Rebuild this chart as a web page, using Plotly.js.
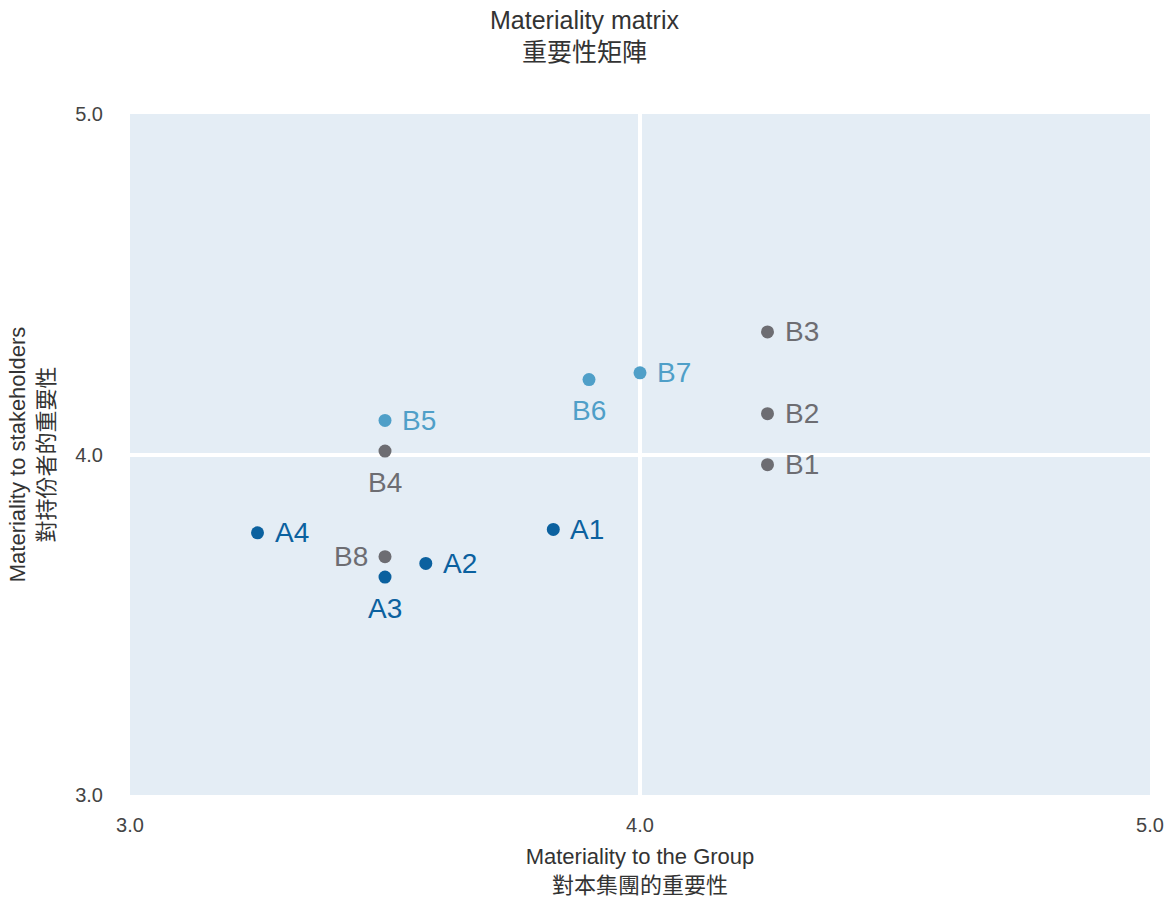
<!DOCTYPE html>
<html>
<head>
<meta charset="utf-8">
<script src="https://cdn.plot.ly/plotly-3.0.1.min.js"></script>
<style>html,body{margin:0;padding:0;background:#fff;}#chart{width:1169px;height:898px;}</style>
</head>
<body>
<div id="chart"></div>
<script>
// Group A (dark blue)
const aLabels = ["A1", "A2", "A3", "A4"];
const aGroup = [3.83, 3.58, 3.50, 3.25];
const aStake = [3.78, 3.68, 3.64, 3.77];
const aPos = ["right", "right", "bottom", "right"];

// Group B light blue
const bLightLabels = ["B5", "B6", "B7"];
const bLightGroup = [3.50, 3.90, 4.00];
const bLightStake = [4.10, 4.22, 4.24];
const bLightPos = ["right", "bottom", "right"];

// Group B grey
const bGreyLabels = ["B1", "B2", "B3", "B4", "B8"];
const bGreyGroup = [4.25, 4.25, 4.25, 3.50, 3.50];
const bGreyStake = [3.97, 4.12, 4.36, 4.01, 3.70];
const bGreyPos = ["right", "right", "right", "bottom", "left"];

const tickVals = [3, 4, 5];
const tickText = ["3.0", "4.0", "5.0"];

const FONT = "Liberation Sans, Arial, Noto Sans CJK TC, sans-serif";

const COLORS = {a: "#0b619f", light: "#4f9fc8", grey: "#6d6d72"};

function mk(x, y, labels, color) {
  return {
    type: "scatter", mode: "markers",
    x: x, y: y, text: labels,
    marker: {size: 13, color: color},
    hoverinfo: "text", cliponaxis: false, showlegend: false
  };
}

function labelAnns(x, y, labels, pos, color) {
  return labels.map((l, i) => {
    const a = {
      x: x[i], y: y[i], xref: "x", yref: "y", text: l, showarrow: false,
      font: {family: FONT, size: 28, color: color},
      xanchor: "center", yanchor: "middle"
    };
    if (pos[i] === "right") { a.xanchor = "left"; a.xshift = 15; }
    else if (pos[i] === "left") { a.xanchor = "right"; a.xshift = -15; }
    else if (pos[i] === "bottom") { a.yshift = -31; }
    return a;
  });
}

const traces = [
  mk(bGreyGroup, bGreyStake, bGreyLabels, COLORS.grey),
  mk(bLightGroup, bLightStake, bLightLabels, COLORS.light),
  mk(aGroup, aStake, aLabels, COLORS.a)
];

const annotations = []
  .concat(labelAnns(bGreyGroup, bGreyStake, bGreyLabels, bGreyPos, COLORS.grey))
  .concat(labelAnns(bLightGroup, bLightStake, bLightLabels, bLightPos, COLORS.light))
  .concat(labelAnns(aGroup, aStake, aLabels, aPos, COLORS.a));

const layout = {
  width: 1169, height: 898,
  margin: {l: 130, r: 19, t: 114, b: 103},
  paper_bgcolor: "#ffffff",
  plot_bgcolor: "#e4edf5",
  font: {family: FONT, color: "#444"},
  title: {
    text: "Materiality matrix<br>重要性矩陣",
    x: 0.5, xanchor: "center", y: 0.968, yanchor: "middle",
    font: {family: FONT, size: 25, color: "#333"}
  },
  annotations: annotations,
  xaxis: {
    range: [3, 5], tickvals: tickVals, ticktext: tickText,
    showgrid: true, gridcolor: "#ffffff", gridwidth: 4,
    zeroline: false, showline: false,
    ticks: "outside", ticklen: 12, tickcolor: "rgba(0,0,0,0)",
    tickfont: {family: FONT, size: 20, color: "#444"},
    title: {text: "Materiality to the Group<br>對本集團的重要性", standoff: 22,
            font: {family: FONT, size: 22, color: "#333"}}
  },
  yaxis: {
    range: [3, 5], tickvals: tickVals, ticktext: tickText,
    showgrid: true, gridcolor: "#ffffff", gridwidth: 4,
    zeroline: false, showline: false,
    ticks: "outside", ticklen: 22, tickcolor: "rgba(0,0,0,0)",
    tickfont: {family: FONT, size: 20, color: "#444"},
    title: {text: "Materiality to stakeholders<br>對持份者的重要性", standoff: 14,
            font: {family: FONT, size: 22, color: "#333"}}
  }
};

Plotly.newPlot("chart", traces, layout, {displayModeBar: false, staticPlot: true});
</script>
</body>
</html>
